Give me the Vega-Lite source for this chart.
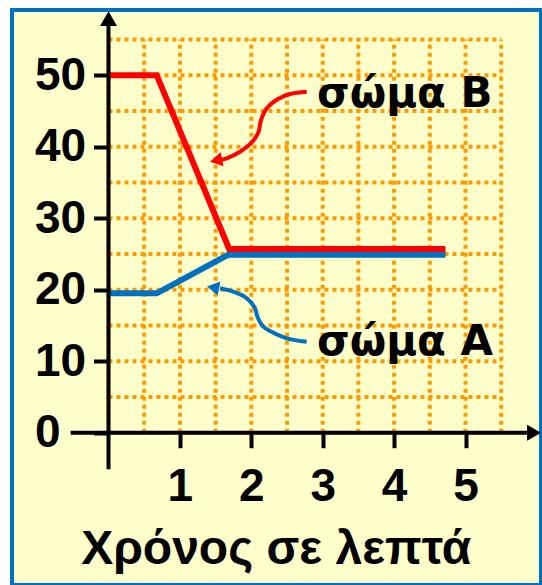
{
  "$schema": "https://vega.github.io/schema/vega-lite/v6.json",
  "width": 529,
  "height": 575,
  "autosize": {"type": "none"},
  "padding": {"left": 12, "top": 10, "right": 1, "bottom": 0},
  "background": "white",
  "view": {"fill": "#FFFFCC", "stroke": "#0070C0", "strokeWidth": 4},
  "config": {"font": "Liberation Sans"},
  "datasets": {
    "vgrid": [
      {"x": 0, "y": 0, "y2": 55}, {"x": 0.5, "y": 0, "y2": 55}, {"x": 1, "y": 0, "y2": 55}, {"x": 1.5, "y": 0, "y2": 55},
      {"x": 2, "y": 0, "y2": 55}, {"x": 2.5, "y": 0, "y2": 55}, {"x": 3, "y": 0, "y2": 55}, {"x": 3.5, "y": 0, "y2": 55},
      {"x": 4, "y": 0, "y2": 55}, {"x": 4.5, "y": 0, "y2": 55}, {"x": 5, "y": 0, "y2": 55}, {"x": 5.5, "y": 0, "y2": 55}
    ],
    "hgrid": [
      {"y": 0, "x": 0, "x2": 5.5}, {"y": 5, "x": 0, "x2": 5.5}, {"y": 10, "x": 0, "x2": 5.5}, {"y": 15, "x": 0, "x2": 5.5},
      {"y": 20, "x": 0, "x2": 5.5}, {"y": 25, "x": 0, "x2": 5.5}, {"y": 30, "x": 0, "x2": 5.5}, {"y": 35, "x": 0, "x2": 5.5},
      {"y": 40, "x": 0, "x2": 5.5}, {"y": 45, "x": 0, "x2": 5.5}, {"y": 50, "x": 0, "x2": 5.5}, {"y": 55, "x": 0, "x2": 5.5}
    ],
    "axes": [
      {"x": -0.53, "x2": 5.86, "y": 0, "y2": 0},
      {"x": 0, "x2": 0, "y": -5.1, "y2": 57}
    ],
    "series": [
      {"body": "σώμα Α", "x": 0, "y": 19.5},
      {"body": "σώμα Α", "x": 0.675, "y": 19.5},
      {"body": "σώμα Α", "x": 1.68, "y": 24.9},
      {"body": "σώμα Α", "x": 4.72, "y": 24.9},
      {"body": "σώμα Β", "x": 0, "y": 50},
      {"body": "σώμα Β", "x": 0.675, "y": 50},
      {"body": "σώμα Β", "x": 1.69, "y": 25.7},
      {"body": "σώμα Β", "x": 4.72, "y": 25.7}
    ],
    "pointers": [
      {"body": "σώμα Β", "i": 0, "x": 2.776, "y": 47.69},
      {"body": "σώμα Β", "i": 1, "x": 2.542, "y": 47.37},
      {"body": "σώμα Β", "i": 2, "x": 2.374, "y": 46.67},
      {"body": "σώμα Β", "i": 3, "x": 2.22, "y": 45.41},
      {"body": "σώμα Β", "i": 4, "x": 2.136, "y": 43.73},
      {"body": "σώμα Β", "i": 5, "x": 2.101, "y": 42.06},
      {"body": "σώμα Β", "i": 6, "x": 2.024, "y": 40.8},
      {"body": "σώμα Β", "i": 7, "x": 1.842, "y": 39.3},
      {"body": "σώμα Β", "i": 8, "x": 1.655, "y": 38.38},
      {"body": "σώμα Β", "i": 9, "x": 1.534, "y": 38.07},
      {"body": "σώμα Α", "i": 0, "x": 2.776, "y": 12.73},
      {"body": "σώμα Α", "i": 1, "x": 2.496, "y": 13.2},
      {"body": "σώμα Α", "i": 2, "x": 2.276, "y": 14.15},
      {"body": "σώμα Α", "i": 3, "x": 2.168, "y": 14.83},
      {"body": "σώμα Α", "i": 4, "x": 2.087, "y": 16.18},
      {"body": "σώμα Α", "i": 5, "x": 2.052, "y": 17.4},
      {"body": "σώμα Α", "i": 6, "x": 1.936, "y": 18.8},
      {"body": "σώμα Α", "i": 7, "x": 1.748, "y": 19.72},
      {"body": "σώμα Α", "i": 8, "x": 1.562, "y": 20.2}
    ],
    "labels": [
      {"body": "σώμα Β", "x": 2.92, "y": 45.55},
      {"body": "σώμα Α", "x": 2.92, "y": 10.87}
    ]
  },
  "encoding": {
    "x": {
      "field": "x",
      "type": "quantitative",
      "scale": {"domain": [-1.3515, 6.0574], "nice": false, "zero": false},
      "axis": {
        "values": [1, 2, 3, 4, 5],
        "offset": -152.3,
        "domain": false,
        "grid": false,
        "tickSize": 15,
        "tickWidth": 4,
        "tickColor": "black",
        "labelFont": "Liberation Sans",
        "labelFontSize": 46,
        "labelFontWeight": "bold",
        "labelColor": "black",
        "labelPadding": 17,
        "labelFlush": false,
        "labelOverlap": false,
        "title": "Χρόνος σε λεπτά",
        "titleFont": "Liberation Sans",
        "titleFontSize": 48,
        "titleFontWeight": "bold",
        "titleColor": "black",
        "titleX": 263.7,
        "titleY": 130.7,
        "titleBaseline": "alphabetic",
        "titleAlign": "center"
      }
    },
    "y": {
      "field": "y",
      "type": "quantitative",
      "scale": {"domain": [-21.301, 59.119], "nice": false, "zero": false},
      "axis": {
        "values": [0, 10, 20, 30, 40, 50],
        "offset": -96.5,
        "domain": false,
        "grid": false,
        "tickSize": 15,
        "tickWidth": 4,
        "tickColor": "black",
        "labelFont": "Liberation Sans",
        "labelFontSize": 46,
        "labelFontWeight": "bold",
        "labelColor": "black",
        "labelAlign": "left",
        "labelPadding": 59,
        "labelOverlap": false,
        "title": null
      }
    }
  },
  "layer": [
    {
      "data": {"name": "vgrid"},
      "mark": {"type": "rule", "color": "#FF9900", "strokeWidth": 4, "strokeDash": [4, 4]},
      "encoding": {"y2": {"field": "y2"}}
    },
    {
      "data": {"name": "hgrid"},
      "mark": {"type": "rule", "color": "#FF9900", "strokeWidth": 4, "strokeDash": [4, 4]},
      "encoding": {"x2": {"field": "x2"}}
    },
    {
      "data": {"name": "series"},
      "mark": {"type": "line", "strokeWidth": 6},
      "encoding": {
        "color": {"field": "body", "type": "nominal", "scale": {"domain": ["σώμα Α", "σώμα Β"], "range": ["#0070C0", "#FF0000"]}, "legend": null}
      }
    },
    {
      "data": {"name": "axes"},
      "mark": {"type": "rule", "color": "black", "strokeWidth": 4},
      "encoding": {"x2": {"field": "x2"}, "y2": {"field": "y2"}}
    },
    {
      "data": {"values": [{"x": 0, "y": 57.9}]},
      "mark": {"type": "point", "shape": "triangle-up", "filled": true, "color": "black", "opacity": 1, "size": 289}
    },
    {
      "data": {"values": [{"x": 5.96, "y": 0}]},
      "mark": {"type": "point", "shape": "triangle-right", "filled": true, "color": "black", "opacity": 1, "size": 260}
    },
    {
      "data": {"name": "pointers"},
      "mark": {"type": "line", "strokeWidth": 4, "interpolate": "catmull-rom"},
      "encoding": {
        "color": {"field": "body", "type": "nominal", "legend": null},
        "order": {"field": "i", "type": "quantitative"}
      }
    },
    {
      "data": {"values": [{"x": 1.506, "y": 38.07}]},
      "mark": {"type": "point", "shape": "triangle-left", "filled": true, "color": "#FF0000", "opacity": 1, "size": 200, "angle": -12}
    },
    {
      "data": {"values": [{"x": 1.464, "y": 20.31}]},
      "mark": {"type": "point", "shape": "triangle-left", "filled": true, "color": "#0070C0", "opacity": 1, "size": 200, "angle": 10}
    },
    {
      "data": {"name": "labels"},
      "mark": {"type": "text", "align": "left", "baseline": "alphabetic", "font": "DejaVu Sans", "fontSize": 42, "fontWeight": "bold", "color": "black"},
      "encoding": {"text": {"field": "body"}}
    }
  ]
}
